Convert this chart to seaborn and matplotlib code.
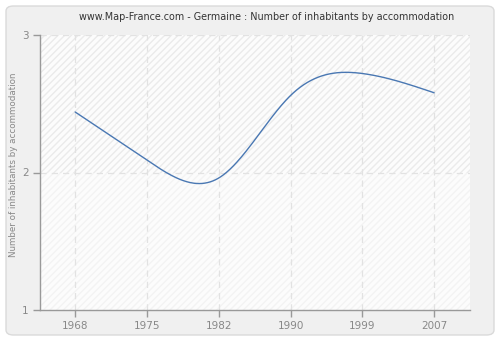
import numpy as np
import pandas as pd
import matplotlib
matplotlib.use("Agg")
import matplotlib.pyplot as plt
import seaborn as sns
from matplotlib.patches import FancyBboxPatch

years = ["1968", "1975", "1982", "1990", "1999", "2007"]
values = [2.44, 2.09, 1.96, 2.56, 2.72, 2.58]
title = "www.Map-France.com - Germaine : Number of inhabitants by accommodation"
ylabel = "Number of inhabitants by accommodation"
yticks = [1, 2, 3]


def natural_spline(x, y, n=400):
    x = np.asarray(x, float)
    y = np.asarray(y, float)
    k = len(x)
    h = np.diff(x)
    A = np.zeros((k, k))
    b = np.zeros(k)
    A[0, 0] = 1
    A[-1, -1] = 1
    for i in range(1, k - 1):
        A[i, i - 1] = h[i - 1]
        A[i, i] = 2 * (h[i - 1] + h[i])
        A[i, i + 1] = h[i]
        b[i] = 3 * ((y[i + 1] - y[i]) / h[i] - (y[i] - y[i - 1]) / h[i - 1])
    c = np.linalg.solve(A, b)
    xs = np.linspace(x[0], x[-1], n)
    ys = np.empty_like(xs)
    for j, xv in enumerate(xs):
        i = min(np.searchsorted(x, xv, side="right") - 1, k - 2)
        dx = xv - x[i]
        bi = (y[i + 1] - y[i]) / h[i] - h[i] * (2 * c[i] + c[i + 1]) / 3
        di = (c[i + 1] - c[i]) / (3 * h[i])
        ys[j] = y[i] + bi * dx + c[i] * dx ** 2 + di * dx ** 3
    return xs, ys


sns.set_theme(style="white")
plt.rcParams["font.family"] = ["DejaVu Sans"]

fig = plt.figure(figsize=(5, 3.4), dpi=100)
fig.patch.set_facecolor("white")
frame = FancyBboxPatch((6 / 500, 5 / 340), 488 / 500, 329 / 340,
                       boxstyle="round,pad=0,rounding_size=0.015",
                       transform=fig.transFigure, facecolor="#f0f0f0",
                       edgecolor="#dadada", linewidth=1, zorder=-10)
fig.patches.append(frame)

ax = fig.add_axes([40 / 500, 30 / 340, 430 / 500, 275 / 340])
ax.set_facecolor("#fcfcfc")

pos = np.arange(len(years))
ax.axhspan(2, 3, facecolor="none", hatch="/////", edgecolor="#ebebeb", linewidth=0, zorder=0)
ax.axhspan(1, 2, facecolor="none", hatch="/////", edgecolor="#f3f3f3", linewidth=0, zorder=0)

xs, ys = natural_spline(pos, values)
df = pd.DataFrame({"x": xs, "y": ys})
sns.lineplot(data=df, x="x", y="y", ax=ax, color="#4a78b3", linewidth=1.0, zorder=3)

ax.set_xlim(-0.49, 5.5)
ax.set_ylim(1, 3)
ax.set_xticks(pos)
ax.set_xticklabels(years)
ax.set_yticks(yticks)
ax.set_yticklabels([str(t) for t in yticks])

for p in pos:
    ax.axvline(p, color="#e2e2e2", linestyle=(0, (5, 4)), linewidth=0.9, zorder=1)
for t in [2, 3]:
    ax.axhline(t, color="#e2e2e2", linestyle=(0, (5, 4)), linewidth=0.9, zorder=1)

for s in ["top", "right"]:
    ax.spines[s].set_visible(False)
for s in ["left", "bottom"]:
    ax.spines[s].set_color("#999999")
    ax.spines[s].set_linewidth(1)

ax.tick_params(axis="both", colors="#999999", length=5, width=1, labelsize=7.5,
               labelcolor="#888888", pad=3)
ax.tick_params(axis="x", direction="out", bottom=True)
ax.tick_params(axis="y", direction="out", left=True)

ax.set_xlabel("")
ax.set_ylabel(ylabel, color="#888888", fontsize=6.3)
ax.yaxis.set_label_coords(-0.05, 0.527)
fig.text(0.534, 0.95, title, ha="center", va="center", fontsize=6.9, color="#333333")

fig.savefig("out.png", dpi=100, facecolor=fig.get_facecolor())
